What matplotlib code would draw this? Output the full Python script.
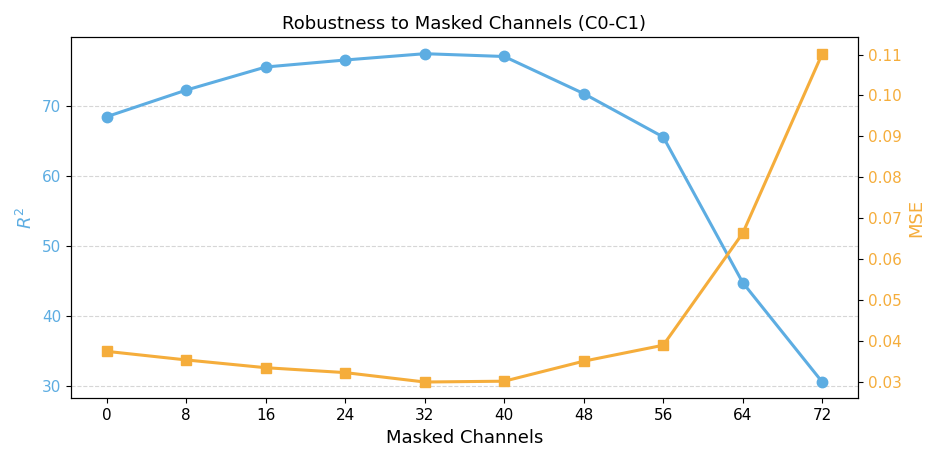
import matplotlib
matplotlib.use("Agg")
import matplotlib.pyplot as plt

masked_channels = [0, 8, 16, 24, 32, 40, 48, 56, 64, 72]
r2_values = [68.5, 72.3, 75.6, 76.6, 77.5, 77.1, 71.8, 65.6, 44.8, 30.6]
mse_values = [0.0374, 0.0353, 0.0334, 0.0322, 0.0299, 0.0301, 0.0350, 0.0389, 0.0663, 0.1102]

blue = "#5DADE2"
orange = "#F5AD3B"

fig, ax = plt.subplots(figsize=(9.46, 4.66), dpi=100)
ax.plot(masked_channels, r2_values, color=blue, marker="o", linewidth=2.2, markersize=7.5)
ax.set_xlabel("Masked Channels", fontsize=13)
ax.set_ylabel("$R^2$", color=blue, fontsize=13)
ax.tick_params(axis="y", labelcolor=blue, labelsize=11)
ax.tick_params(axis="x", labelsize=11)
ax.set_xticks(masked_channels)
ax.grid(axis="y", linestyle="--", color="#cccccc", alpha=0.8)

ax2 = ax.twinx()
ax2.plot(masked_channels, mse_values, color=orange, marker="s", linewidth=2.2, markersize=7.5)
ax2.set_ylabel("MSE", color=orange, fontsize=13)
ax2.tick_params(axis="y", labelcolor=orange, labelsize=11)

ax.set_title("Robustness to Masked Channels (C0-C1)", fontsize=13)
fig.subplots_adjust(left=0.075, right=0.907, top=0.92, bottom=0.145)
plt.savefig("out.png")
plt.close(fig)
